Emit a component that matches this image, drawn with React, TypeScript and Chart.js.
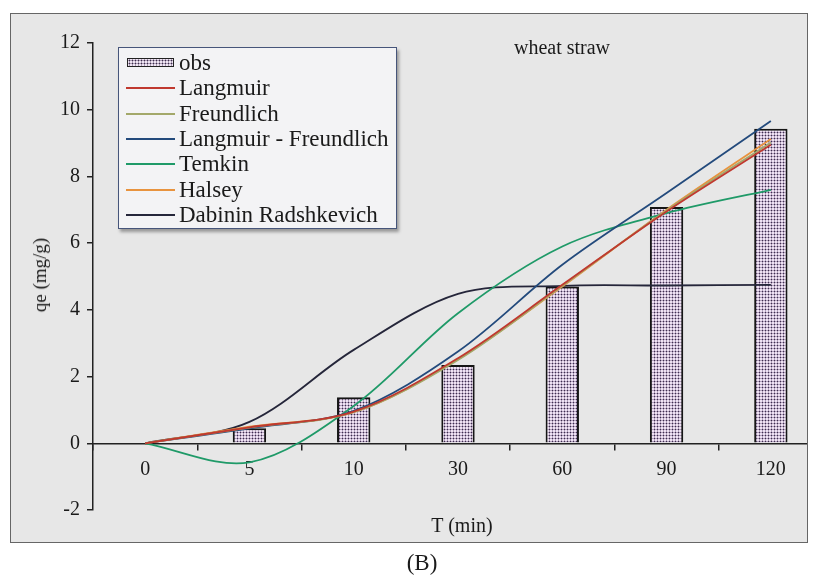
import React, { useEffect, useRef } from "react";
import { Chart, registerables } from "chart.js";
Chart.register(...registerables);

const categories = ["0", "5", "10", "30", "60", "90", "120"];
const obs = [0, 0.45, 1.38, 2.35, 4.7, 7.08, 9.43];
const langmuir = [0, 0.48, 0.95, 2.55, 4.75, 6.95, 8.95];
const freundlich = [0, 0.47, 0.93, 2.5, 4.72, 6.98, 9.02];
const langmuirFreundlich = [0, 0.45, 0.97, 2.75, 5.35, 7.5, 9.66];
const temkin = [0, -0.57, 1.12, 3.9, 5.9, 6.9, 7.6];
const halsey = [0, 0.5, 0.93, 2.52, 4.7, 7.0, 9.12];
const dabinin = [0, 0.64, 2.8, 4.48, 4.72, 4.73, 4.75];

const yMin = -2;
const yMax = 12;
const yStep = 2;

const SERIF = "'Liberation Serif', 'Times New Roman', serif";

const lineSeries = [
  { label: "Langmuir", data: langmuir, color: "#c0392f" },
  { label: "Freundlich", data: freundlich, color: "#a3a86a" },
  { label: "Langmuir - Freundlich", data: langmuirFreundlich, color: "#234a7c" },
  { label: "Temkin", data: temkin, color: "#1f9a68" },
  { label: "Halsey", data: halsey, color: "#e8933e" },
  { label: "Dabinin Radshkevich", data: dabinin, color: "#25263a" },
];

function makePattern(ctx: CanvasRenderingContext2D) {
  const c = document.createElement("canvas");
  c.width = 3;
  c.height = 3;
  const g = c.getContext("2d")!;
  g.fillStyle = "#efe2f3";
  g.fillRect(0, 0, 3, 3);
  g.fillStyle = "#b09fbb";
  g.fillRect(0, 1, 1, 1);
  g.fillRect(2, 1, 1, 1);
  g.fillRect(1, 0, 1, 1);
  g.fillRect(1, 2, 1, 1);
  g.fillStyle = "#3d2d4d";
  g.fillRect(1, 1, 1, 1);
  return ctx.createPattern(c, "repeat")!;
}

const swatchBg =
  "radial-gradient(circle, #3d2d4d 0.7px, #efe4f3 1.2px) 0 0 / 3px 3px";

export default function App() {
  const ref = useRef<HTMLCanvasElement>(null);
  useEffect(() => {
    const canvas = ref.current!;
    const ctx = canvas.getContext("2d")!;
    const pattern = makePattern(ctx);
    const chart = new Chart(ctx, {
      type: "bar",
      data: {
        labels: categories,
        datasets: [
          ...lineSeries.map((s) => ({
            type: "line" as const,
            label: s.label,
            data: s.data,
            borderColor: s.color,
            backgroundColor: s.color,
            borderWidth: 1.8,
            pointRadius: 0,
            tension: 0.33,
            fill: false,
            order: 1,
          })),
          {
            type: "bar" as const,
            label: "obs",
            data: obs,
            backgroundColor: pattern,
            borderColor: "#151515",
            borderWidth: 2,
            barPercentage: 0.32,
            categoryPercentage: 1,
            order: 10,
          },
        ],
      },
      options: {
        animation: false,
        responsive: false,
        maintainAspectRatio: false,
        layout: { padding: { top: 29, bottom: 32, right: 28, left: 0 } },
        plugins: { legend: { display: false }, tooltip: { enabled: false }, title: { display: false } },
        scales: {
          x: {
            position: { y: 0 } as any,
            offset: true,
            grid: { offset: true, drawOnChartArea: false, tickLength: 6, color: "#222", lineWidth: 1.5 },
            border: { color: "#222", width: 1.5 },
            ticks: { color: "#1a1a1a", font: { family: SERIF, size: 20 }, padding: 8, maxRotation: 0 },
          },
          y: {
            min: yMin,
            max: yMax,
            grid: { drawOnChartArea: false, tickLength: 6, color: "#222", lineWidth: 1.5 },
            border: { color: "#222", width: 1.5 },
            ticks: { stepSize: yStep, color: "#1a1a1a", font: { family: SERIF, size: 20 }, padding: 7 },
            afterFit: (s: any) => {
              s.width = 82;
            },
          },
        },
      },
    } as any);
    return () => chart.destroy();
  }, []);

  const legendItems = [{ label: "obs", color: "" }, ...lineSeries.map((s) => ({ label: s.label, color: s.color }))];

  return (
    <div style={{ position: "absolute", left: 0, top: 0, width: 829, height: 583, background: "#fff", fontFamily: SERIF, color: "#1a1a1a" }}>
      <div
        style={{
          position: "absolute",
          left: 10,
          top: 13,
          width: 798,
          height: 530,
          boxSizing: "border-box",
          border: "1px solid #666",
          background: "#e7e7e7",
          overflow: "hidden",
        }}
      >
        <canvas ref={ref} width={840} height={528} style={{ position: "absolute", left: 0, top: 0, width: 840, height: 528 }} />
      </div>
      <div
        style={{
          position: "absolute",
          left: 40,
          top: 275,
          transform: "translate(-50%, -50%) rotate(-90deg)",
          fontSize: 19,
          whiteSpace: "nowrap",
        }}
      >
        qe (mg/g)
      </div>
      <div style={{ position: "absolute", left: 562, top: 47, transform: "translate(-50%, -50%)", fontSize: 20, whiteSpace: "nowrap" }}>
        wheat straw
      </div>
      <div style={{ position: "absolute", left: 462, top: 525, transform: "translate(-50%, -50%)", fontSize: 20, whiteSpace: "nowrap" }}>
        T (min)
      </div>
      <div style={{ position: "absolute", left: 422, top: 563, transform: "translate(-50%, -50%)", fontSize: 23, whiteSpace: "nowrap" }}>
        (B)
      </div>
      <div
        style={{
          position: "absolute",
          left: 118,
          top: 47,
          width: 279,
          height: 182,
          boxSizing: "border-box",
          border: "1.5px solid #46557a",
          background: "#f3f3f5",
          boxShadow: "2px 3px 3px rgba(0,0,0,0.35)",
        }}
      >
        {legendItems.map((it, i) => (
          <div key={it.label} style={{ position: "absolute", left: 0, top: 15 + i * 25.3 - 13, height: 26, width: 279 }}>
            {it.color ? (
              <div style={{ position: "absolute", left: 7, top: 12, width: 49, height: 0, borderTop: `2px solid ${it.color}` }} />
            ) : (
              <div
                style={{
                  position: "absolute",
                  left: 8,
                  top: 8,
                  width: 47,
                  height: 9,
                  boxSizing: "border-box",
                  border: "1px solid #222",
                  background: swatchBg,
                }}
              />
            )}
            <div style={{ position: "absolute", left: 60, top: 0, lineHeight: "26px", fontSize: 23, whiteSpace: "nowrap" }}>{it.label}</div>
          </div>
        ))}
      </div>
    </div>
  );
}
